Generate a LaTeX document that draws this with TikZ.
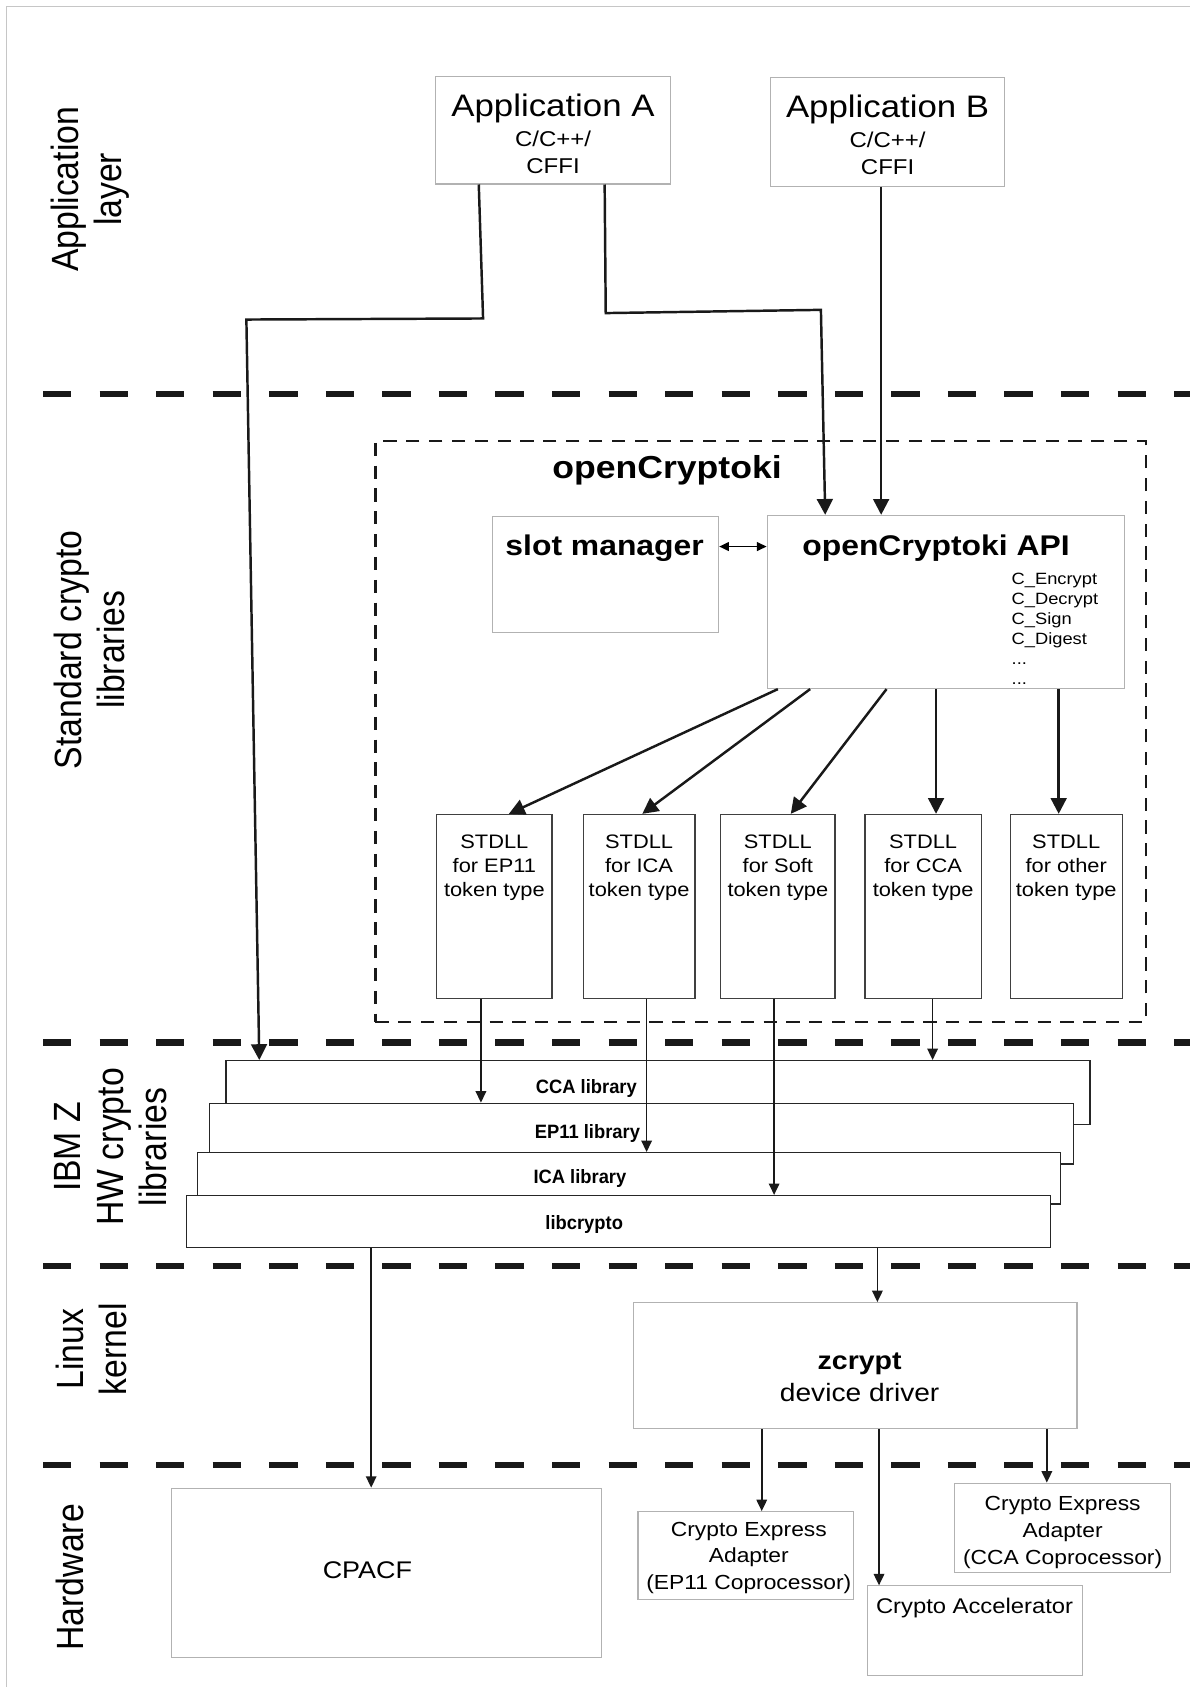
\documentclass[tikz,border=0pt]{standalone}
\usepackage{fontspec}
\setmainfont{Liberation Sans}[FakeStretch=1.12]
\newfontfamily\sidefont{Liberation Sans}[FakeStretch=0.89]
\newfontfamily\libfont{Liberation Sans}[FakeStretch=0.95]
\usetikzlibrary{arrows.meta,fit}

\begin{document}
\begin{tikzpicture}[x=0.6126pt, y=-0.6126pt,
    >={Triangle[length=9pt, width=9pt]},
    box/.style={draw=gray!60, line width=0.6pt, fill=white, inner sep=0pt},
    stdllbox/.style={box, draw=black!75, line width=0.7pt},
    libbox/.style={box, draw=black!85, line width=0.7pt},
    libtxt/.style={inner sep=0pt, anchor=base, font=\libfont\bfseries\fontsize{11}{13}\selectfont},
    layerline/.style={draw=black!90, line width=3.5pt, dash pattern=on 16.1pt off 16.1pt},
    sidelabel/.style={rotate=90, align=center, inner sep=0pt,
        font=\sidefont\fontsize{21.6}{24.5}\selectfont},
    txt/.style={inner sep=0pt, anchor=base},
    block/.style={inner sep=0pt, anchor=north, align=center},
    bigarrow/.style={->, draw=black!90, line width=1.4pt},
    smallarrow/.style={-{Triangle[length=6.5pt, width=6pt]}, draw=black!90, line width=0.9pt},
]
\useasboundingbox (0,0) rectangle (1106,1568);

% Frame
\draw[gray!45, line width=0.8pt] (6,1568) -- (6,6) -- (1106,6);

% Layer borders
\foreach \yy in {366,969,1177,1361.5}
    \draw[layerline] (40,\yy) -- (1106,\yy);

% Layer names
\node[sidelabel] (appL) at (84,176) {Application\\layer};
\node[sidelabel] (stdL) at (83,604) {Standard crypto\\libraries};
\node[sidelabel] (hwL) at (103,1066) {IBM Z\\HW crypto\\libraries};
\node[sidelabel] (linL) at (85,1254) {Linux\\kernel};
\node[sidelabel] (hardL) at (65,1466) {Hardware};

% Applications
\node[box, fit={(405,71) (623,171)}] (appA) {};
\node[txt, font=\fontsize{17.7}{20}\selectfont] (appAname) at (514,108) {Application A};
\node[block, font=\fontsize{12.2}{15.3}\selectfont] (appAlang) at (514,121.5) {C/C++/\\CFFI};
\node[box, fit={(716,72) (934,173)}] (appB) {};
\node[txt, font=\fontsize{17.7}{20}\selectfont] (appBname) at (825,109) {Application B};
\node[block, font=\fontsize{12.2}{15.3}\selectfont] (appBlang) at (825,122.5) {C/C++/\\CFFI};

% openCryptoki
\node[draw=black!90, line width=1.5pt, dash pattern=on 7.5pt off 5.5pt, inner sep=0pt,
    fit={(349,410) (1065,950)}] (ock) {};
\node[txt, font=\bfseries\fontsize{18.1}{20}\selectfont] (ockname) at (620,445) {openCryptoki};

\node[box, fit={(458,480) (668,588)}] (slot) {};
\node[txt, font=\bfseries\fontsize{16.2}{18}\selectfont] (slotname) at (562,516) {slot manager};
\node[box, fit={(713,479) (1045,640)}] (api) {};
\node[txt, font=\bfseries\fontsize{16.2}{18}\selectfont] (apiname) at (870,516) {openCryptoki API};
\node[inner sep=0pt, anchor=north west, align=left, font=\fontsize{9.3}{11.4}\selectfont]
    (apifunc) at (940,532.6) {C\_Encrypt\\C\_Decrypt\\C\_Sign\\C\_Digest\\...\\...};
\draw[{Triangle[length=5.5pt, width=5pt]}-{Triangle[length=5.5pt, width=5pt]}, line width=0.9pt]
    (slot.east |- 0,508) -- (api.west |- 0,508);

% STDLLs
\foreach \nm/\l/\r/\t in {ep/406/513/EP11, ica/542/646/ICA, soft/670/776/Soft,
        cca/804/912/CCA, other/939/1043/other} {
    \node[stdllbox, fit={(\l,757) (\r,928)}] (\nm) {};
    \node[block, font=\fontsize{11.1}{13.8}\selectfont] (lbl\nm) at (\nm.north |- 0,775.2)
        {STDLL\\for \t\\token type};
}
\foreach \a/\b/\nm in {723/473/ep, 753/597/ica, 824/735/soft, 870/870/cca, 984/984/other}
    \draw[bigarrow] (\a,0 |- api.south) -- (\b,0 |- \nm.north);

% IBM Z libraries
\node[libbox, fit={(210,985.8) (1013,1045.5)}] (ccalib) {};
\node[libtxt] (ccaname) at (545,1016) {CCA library};
\node[libbox, fit={(194.5,1025.4) (997.5,1081.8)}] (eplib) {};
\node[libtxt] (epname) at (546,1058) {EP11 library};
\node[libbox, fit={(183.4,1071.3) (986,1119)}] (icalib) {};
\node[libtxt] (icaname) at (539,1100) {ICA library};
\node[libbox, fit={(173.2,1111.2) (976.1,1159.2)}] (libcrypto) {};
\node[libtxt] (libname) at (543,1143) {libcrypto};

% Linux kernel
\node[box, fit={(588.5,1210.7) (1001,1328)}] (zcrypt) {};
\node[txt, font=\bfseries\fontsize{14.5}{17}\selectfont] (zname) at (799,1273) {zcrypt};
\node[txt, font=\fontsize{14.3}{17}\selectfont] (zsub) at (799,1302.7) {device driver};

% Hardware
\node[box, fit={(159.8,1383.2) (559.5,1540.3)}] (cpacf) {};
\node[txt, font=\fontsize{13.7}{16}\selectfont] (cpacfname) at (341.5,1466.9) {CPACF};
\node[box, fit={(593,1405) (793.7,1487)}] (ceep) {};
\node[block, font=\fontsize{11.6}{15.3}\selectfont] (ceepname) at (696,1414.2)
    {Crypto Express\\Adapter\\(EP11 Coprocessor)};
\node[box, fit={(806.2,1474) (1006.5,1557)}] (accel) {};
\node[txt, font=\fontsize{12.1}{14}\selectfont] (accelname) at (905.8,1499.4) {Crypto Accelerator};
\node[box, fit={(887,1378.5) (1088.3,1461.6)}] (cecca) {};
\node[block, font=\fontsize{11.6}{15.3}\selectfont] (ceccaname) at (987.7,1390.5)
    {Crypto Express\\Adapter\\(CCA Coprocessor)};

% Calls from the applications
\draw[bigarrow] (445,0 |- appA.south) -- (449,296) -- (229,297) -- (241,0 |- ccalib.north);
\draw[bigarrow] (562,0 |- appA.south) -- (563,291) -- (763,288) -- (767,0 |- api.north);
\draw[bigarrow] (819,0 |- appB.south) -- (819,0 |- api.north);

% STDLLs to libraries
\draw[smallarrow] (447,0 |- ep.south) -- (447,0 |- eplib.north);
\draw[smallarrow] (601,0 |- ica.south) -- (601,0 |- icalib.north);
\draw[smallarrow] (719.5,0 |- soft.south) -- (719.5,0 |- libcrypto.north);
\draw[smallarrow] (866.8,0 |- cca.south) -- (866.8,0 |- ccalib.north);

% Down to kernel and hardware
\draw[smallarrow] (345,0 |- libcrypto.south) -- (345,0 |- cpacf.north);
\draw[smallarrow] (815.5,0 |- libcrypto.south) -- (815.5,0 |- zcrypt.north);
\draw[smallarrow] (708,0 |- zcrypt.south) -- (708,0 |- ceep.north);
\draw[smallarrow] (817,0 |- zcrypt.south) -- (817,0 |- accel.north);
\draw[smallarrow] (973,0 |- zcrypt.south) -- (973,0 |- cecca.north);
\end{tikzpicture}
\end{document}
